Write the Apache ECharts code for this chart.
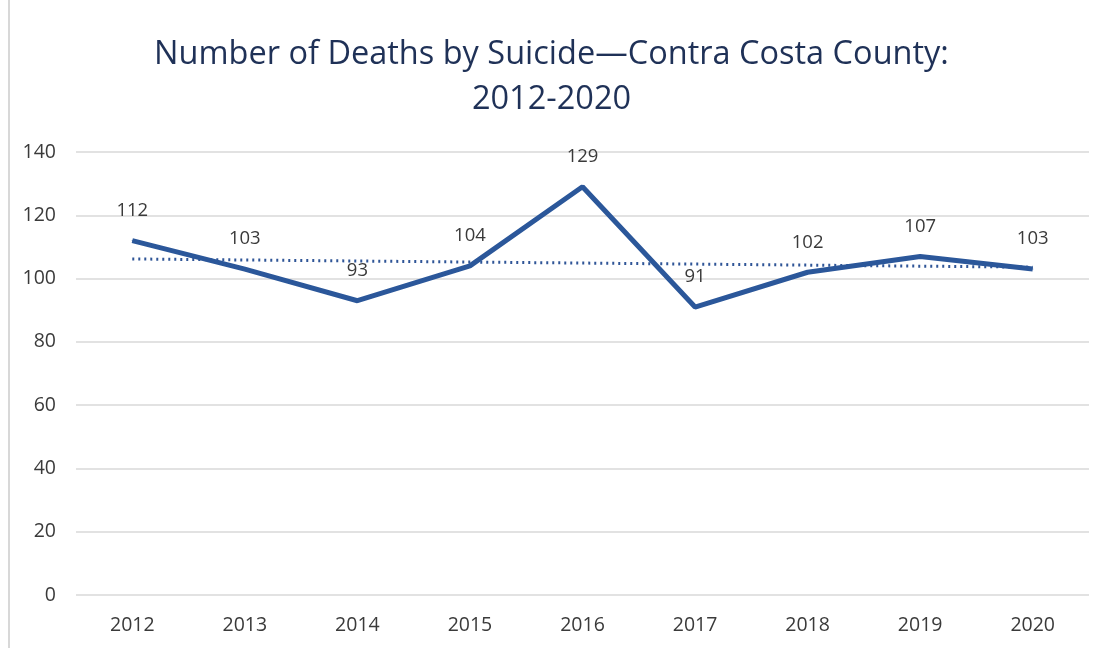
<!DOCTYPE html>
<html><head><meta charset="utf-8">
<script src="https://cdn.jsdelivr.net/npm/echarts@6/dist/echarts.min.js"></script>
<style>html,body{margin:0;padding:0;background:#fff}#c{width:1103px;height:648px}</style>
</head><body><div id="c"></div>
<script>
const years = ['2012','2013','2014','2015','2016','2017','2018','2019','2020'];
const deaths = [112,103,93,104,129,91,102,107,103];
const trendEnds = [106.2, 103.6];
const yTicks = [0,20,40,60,80,100,120,140];

const chart = echarts.init(document.getElementById('c'));
chart.setOption({
  backgroundColor:'#ffffff',
  title:{
    text:'Number of Deaths by Suicide\u2014Contra Costa County:\n2012-2020',
    left:'center', top:27,
    textStyle:{fontFamily:'Open Sans', fontSize:32.5, fontWeight:'normal', color:'#1f3157', lineHeight:45}
  },
  graphic:[{type:'line', shape:{x1:9,y1:0,x2:9,y2:648}, style:{stroke:'#d8d8d8', lineWidth:2}}],
  grid:{left:76, right:14, top:152, bottom:53},
  xAxis:{
    type:'category', data:years, boundaryGap:true,
    axisLine:{show:false}, axisTick:{show:false},
    axisLabel:{fontFamily:'Open Sans', fontSize:19.5, color:'#3a3a3a', margin:20}
  },
  yAxis:{
    type:'value', min:yTicks[0], max:yTicks[yTicks.length-1], interval:20,
    axisLine:{show:false}, axisTick:{show:false},
    axisLabel:{fontFamily:'Open Sans', fontSize:19.5, color:'#3a3a3a', margin:20},
    splitLine:{lineStyle:{color:'#d9d9d9', width:1.5}}
  },
  series:[
    {
      type:'line', data:[[years[0],trendEnds[0]],[years[years.length-1],trendEnds[1]]],
      symbol:'none', silent:true, z:1,
      lineStyle:{color:'#2f5597', width:3, type:[2,4]}
    },
    {
      type:'line', data:deaths, symbol:'circle', symbolSize:1, showSymbol:true, z:2,
      itemStyle:{color:'#2b579a'},
      lineStyle:{color:'#2b579a', width:5},
      label:{show:true, position:'top', distance:20, fontFamily:'Open Sans', fontSize:18.5, color:'#3a3a3a'}
    }
  ]
});
</script></body></html>
